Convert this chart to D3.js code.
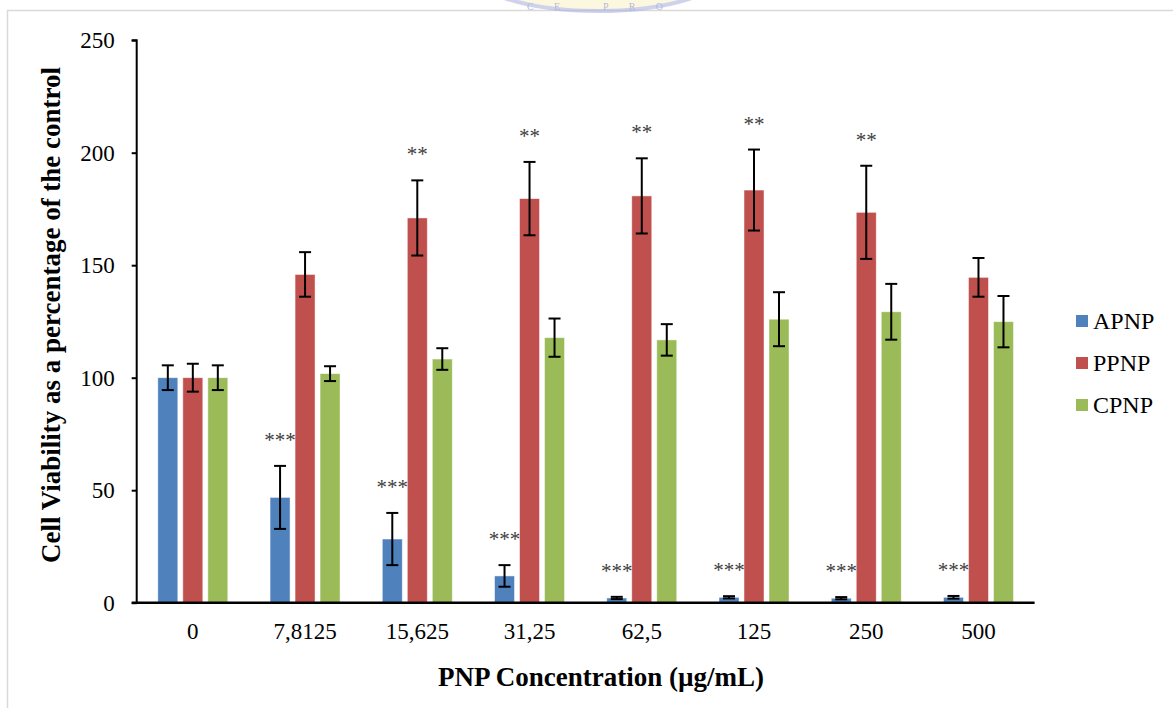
<!DOCTYPE html>
<html>
<head>
<meta charset="utf-8">
<script src="https://cdn.jsdelivr.net/npm/d3@7"></script>
<style>
  html, body { margin: 0; padding: 0; background: #fff; }
  svg { display: block; }
  text { font-family: "Liberation Serif", "Times New Roman", serif; fill: #000; }
</style>
</head>
<body>
<svg id="chart" width="1173" height="708"></svg>
<script>
// Concentrations (µg/mL) shown on the x axis
const concentrations = ["0", "7,8125", "15,625", "31,25", "62,5", "125", "250", "500"];
const seriesNames = ["APNP", "PPNP", "CPNP"];
const seriesColors = ["#4F81BD", "#C0504D", "#9BBB59"];

// Mean viability (% of control) for each nanoparticle type
const apnp = [100, 46.8, 28.3, 11.9, 2.1, 2.4, 2.0, 2.4];
const ppnp = [100, 145.9, 171.0, 179.6, 180.8, 183.4, 173.5, 144.6];
const cpnp = [100, 101.8, 108.3, 117.8, 116.8, 126.0, 129.3, 124.9];

// Standard deviations
const apnpErr = [5.5, 14.0, 11.6, 4.8, 0.5, 0.5, 0.5, 0.6];
const ppnpErr = [6.2, 9.9, 16.7, 16.3, 16.7, 18.0, 20.7, 8.6];
const cpnpErr = [5.5, 3.3, 4.8, 8.5, 7.0, 12.0, 12.4, 11.4];

// Significance marks
const apnpSig = ["", "***", "***", "***", "***", "***", "***", "***"];
const ppnpSig = ["", "", "**", "**", "**", "**", "**", ""];
const cpnpSig = ["", "", "", "", "", "", "", ""];

const yTicks = [0, 50, 100, 150, 200, 250];

const svg = d3.select("#chart");

// Page frame
svg.append("line").attr("x1", 7).attr("x2", 1173).attr("y1", 10.5).attr("y2", 10.5)
  .attr("stroke", "#d9d9d9").attr("stroke-width", 1.5);
svg.append("line").attr("x1", 7.5).attr("x2", 7.5).attr("y1", 10).attr("y2", 708)
  .attr("stroke", "#d9d9d9").attr("stroke-width", 1.5);

// Faint logo peeking above the frame
const logo = svg.append("g");
logo.append("clipPath").attr("id", "logoClip")
  .append("rect").attr("x", 0).attr("y", 0).attr("width", 1173).attr("height", 13);
logo.append("g").attr("clip-path", "url(#logoClip)").attr("opacity", 0.55)
  .append("ellipse").attr("cx", 598).attr("cy", -30).attr("rx", 128).attr("ry", 41)
  .attr("fill", "#fbf3c8").attr("stroke", "#a9aee0").attr("stroke-width", 4);
logo.append("text").attr("x", 527).attr("y", 9.5)
  .attr("textLength", 136).attr("lengthAdjust", "spacing")
  .style("font-size", "10px").style("fill", "#b4b8d8")
  .text("CE PRO");

const margin = { left: 136.7, right: 1034.6, top: 40.2, bottom: 602.7 };

const x0 = d3.scaleBand().domain(concentrations).range([margin.left, margin.right]).paddingInner(0).paddingOuter(0);
const y = d3.scaleLinear().domain([0, 250]).range([margin.bottom, margin.top]);

const stride = 25, barW = 20;

const data = [
  { name: seriesNames[0], values: apnp, errs: apnpErr, sig: apnpSig },
  { name: seriesNames[1], values: ppnp, errs: ppnpErr, sig: ppnpSig },
  { name: seriesNames[2], values: cpnp, errs: cpnpErr, sig: cpnpSig }
];

const centerX = (ci, si) => x0(concentrations[ci]) + x0.bandwidth() / 2 + (si - 1) * stride;

// Bars
data.forEach((s, si) => {
  svg.append("g").selectAll("rect").data(s.values).join("rect")
    .attr("x", (d, i) => centerX(i, si) - barW / 2)
    .attr("y", d => y(d))
    .attr("width", barW)
    .attr("height", d => y(0) - y(d))
    .attr("fill", seriesColors[si])
    .attr("stroke", "#ffffff").attr("stroke-opacity", 0.6).attr("stroke-width", 0.8);
});

// Axes
const yAxis = d3.axisLeft(y).tickValues(yTicks).tickSize(5).tickPadding(17);
const yg = svg.append("g").attr("transform", `translate(${margin.left},0)`).call(yAxis);
yg.select(".domain").attr("stroke", "#000").attr("stroke-width", 2).attr("d", `M-5,${margin.top}H0V${margin.bottom}`);
yg.selectAll(".tick line").attr("stroke", "#000").attr("stroke-width", 2);
yg.selectAll(".tick text").style("font-size", "23px").attr("font-family", null).attr("fill", "#000");

const xAxis = d3.axisBottom(x0).tickSize(0).tickPadding(20);
const xg = svg.append("g").attr("transform", `translate(0,${margin.bottom})`).call(xAxis);
xg.select(".domain").attr("stroke", "#000").attr("stroke-width", 2.5).attr("d", `M${margin.left - 5},0H${margin.right}`);
xg.selectAll(".tick text").style("font-size", "23px").attr("font-family", null).attr("fill", "#000");

// Error bars
data.forEach((s, si) => {
  const g = svg.append("g").attr("stroke", "#000").attr("stroke-width", 2);
  s.values.forEach((v, i) => {
    const cx = centerX(i, si);
    const top = y(v + s.errs[i]), bot = y(v - s.errs[i]);
    g.append("line").attr("x1", cx).attr("x2", cx).attr("y1", top).attr("y2", bot);
    g.append("line").attr("x1", cx - 6).attr("x2", cx + 6).attr("y1", top).attr("y2", top);
    g.append("line").attr("x1", cx - 6).attr("x2", cx + 6).attr("y1", bot).attr("y2", bot);
  });
});

// Significance marks
data.forEach((s, si) => {
  s.sig.forEach((m, i) => {
    if (!m) return;
    svg.append("text")
      .attr("x", centerX(i, si))
      .attr("y", y(s.values[i] + s.errs[i]) - 19)
      .attr("text-anchor", "middle")
      .style("font-size", "21px").style("fill", "#404040")
      .text(m);
  });
});

// Axis titles
svg.append("text").attr("x", 601).attr("y", 686).attr("text-anchor", "middle")
  .style("font-size", "27px").style("font-weight", "bold")
  .text("PNP Concentration (µg/mL)");
svg.append("text").attr("transform", "translate(60,315) rotate(-90)").attr("text-anchor", "middle")
  .style("font-size", "27px").style("font-weight", "bold")
  .text("Cell Viability as a percentage of the control");

// Legend
const leg = svg.append("g");
seriesNames.forEach((n, i) => {
  const cy = 321 + i * 42;
  leg.append("rect").attr("x", 1076).attr("y", cy - 6).attr("width", 12).attr("height", 12).attr("fill", seriesColors[i]);
  leg.append("text").attr("x", 1093).attr("y", cy + 8).style("font-size", "24px").text(n);
});
</script>
</body>
</html>
